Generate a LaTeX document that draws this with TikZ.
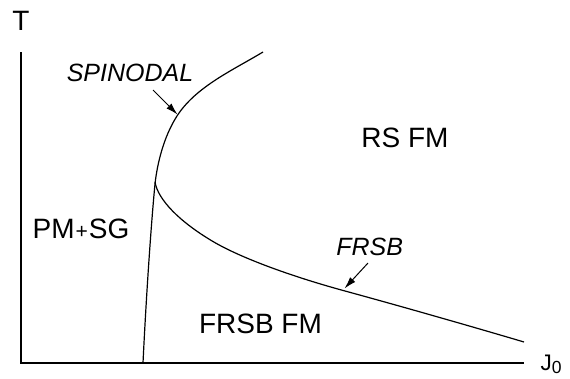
\documentclass[tikz,border=0pt]{standalone}
\usepackage{fontspec}
\setmainfont{Liberation Sans}
\usetikzlibrary{arrows.meta}
\begin{document}
\begin{tikzpicture}[x=1pt,y=-1pt,
  lbl/.style={inner sep=0pt,anchor=base,font=\fontsize{28}{28}\selectfont},
  ilbl/.style={inner sep=0pt,anchor=base,font=\fontsize{25}{25}\selectfont\itshape},
  curve/.style={line width=1.2pt},
  axis/.style={line width=1.2pt},
  pointer/.style={line width=1pt,-{Latex[length=12pt,width=7pt]}}]
\useasboundingbox (0,0) rectangle (570,378);
% axes
\coordinate (orig) at (21,363);
\coordinate (ytop) at (21,52);
\coordinate (xend) at (524,363);
\draw[axis] (ytop) -- (orig) -- (xend);
\node[lbl] (T) at (21,30) {T};
\node[inner sep=0pt,anchor=base west,font=\fontsize{22.5}{22.5}\selectfont] (J) at (540.5,370) {J\raisebox{-3.3pt}{\fontsize{17.5}{17.5}\selectfont 0}};
% spinodal curve
\coordinate (spbot) at (143,363);
\coordinate (nose) at (155,184);
\coordinate (spmid) at (177,116);
\coordinate (sptop) at (263,52);
\draw[curve] (spbot) .. controls (146,300) and (151,225) .. (nose)
  .. controls (157.2,164) and (163.5,137) .. (spmid)
  .. controls (195.9,86.6) and (233,70.1) .. (sptop);
% FRSB line
\coordinate (fr0) at (155,182);
\coordinate (fr1) at (213,241.5);
\coordinate (fr2) at (345,291);
\coordinate (fr3) at (524,342);
\draw[curve] (fr0) .. controls (158,200) and (180,222) .. (fr1)
  .. controls (240,257.5) and (290,276) .. (fr2)
  .. controls (400,306) and (470,326) .. (fr3);
% labels
\node[lbl] (rsfm) at (405,147.3) {RS FM};
\node[lbl] (pmsg) at (81,238.3) {PM\kern1pt{\fontsize{21}{21}\selectfont+}\kern1pt SG};
\node[lbl] (frsbfm) at (260.5,333.3) {FRSB FM};
\node[ilbl] (spin) at (130,81.7) {SPINODAL};
\node[ilbl] (frsb) at (369.7,255) {FRSB};
% pointers
\coordinate (spA) at (153,90);
\coordinate (spB) at (177.5,114.5);
\draw[pointer] (spA) -- (spB);
\coordinate (frA) at (368,263);
\coordinate (frB) at (344.5,288.5);
\draw[pointer] (frA) -- (frB);
\end{tikzpicture}
\end{document}
